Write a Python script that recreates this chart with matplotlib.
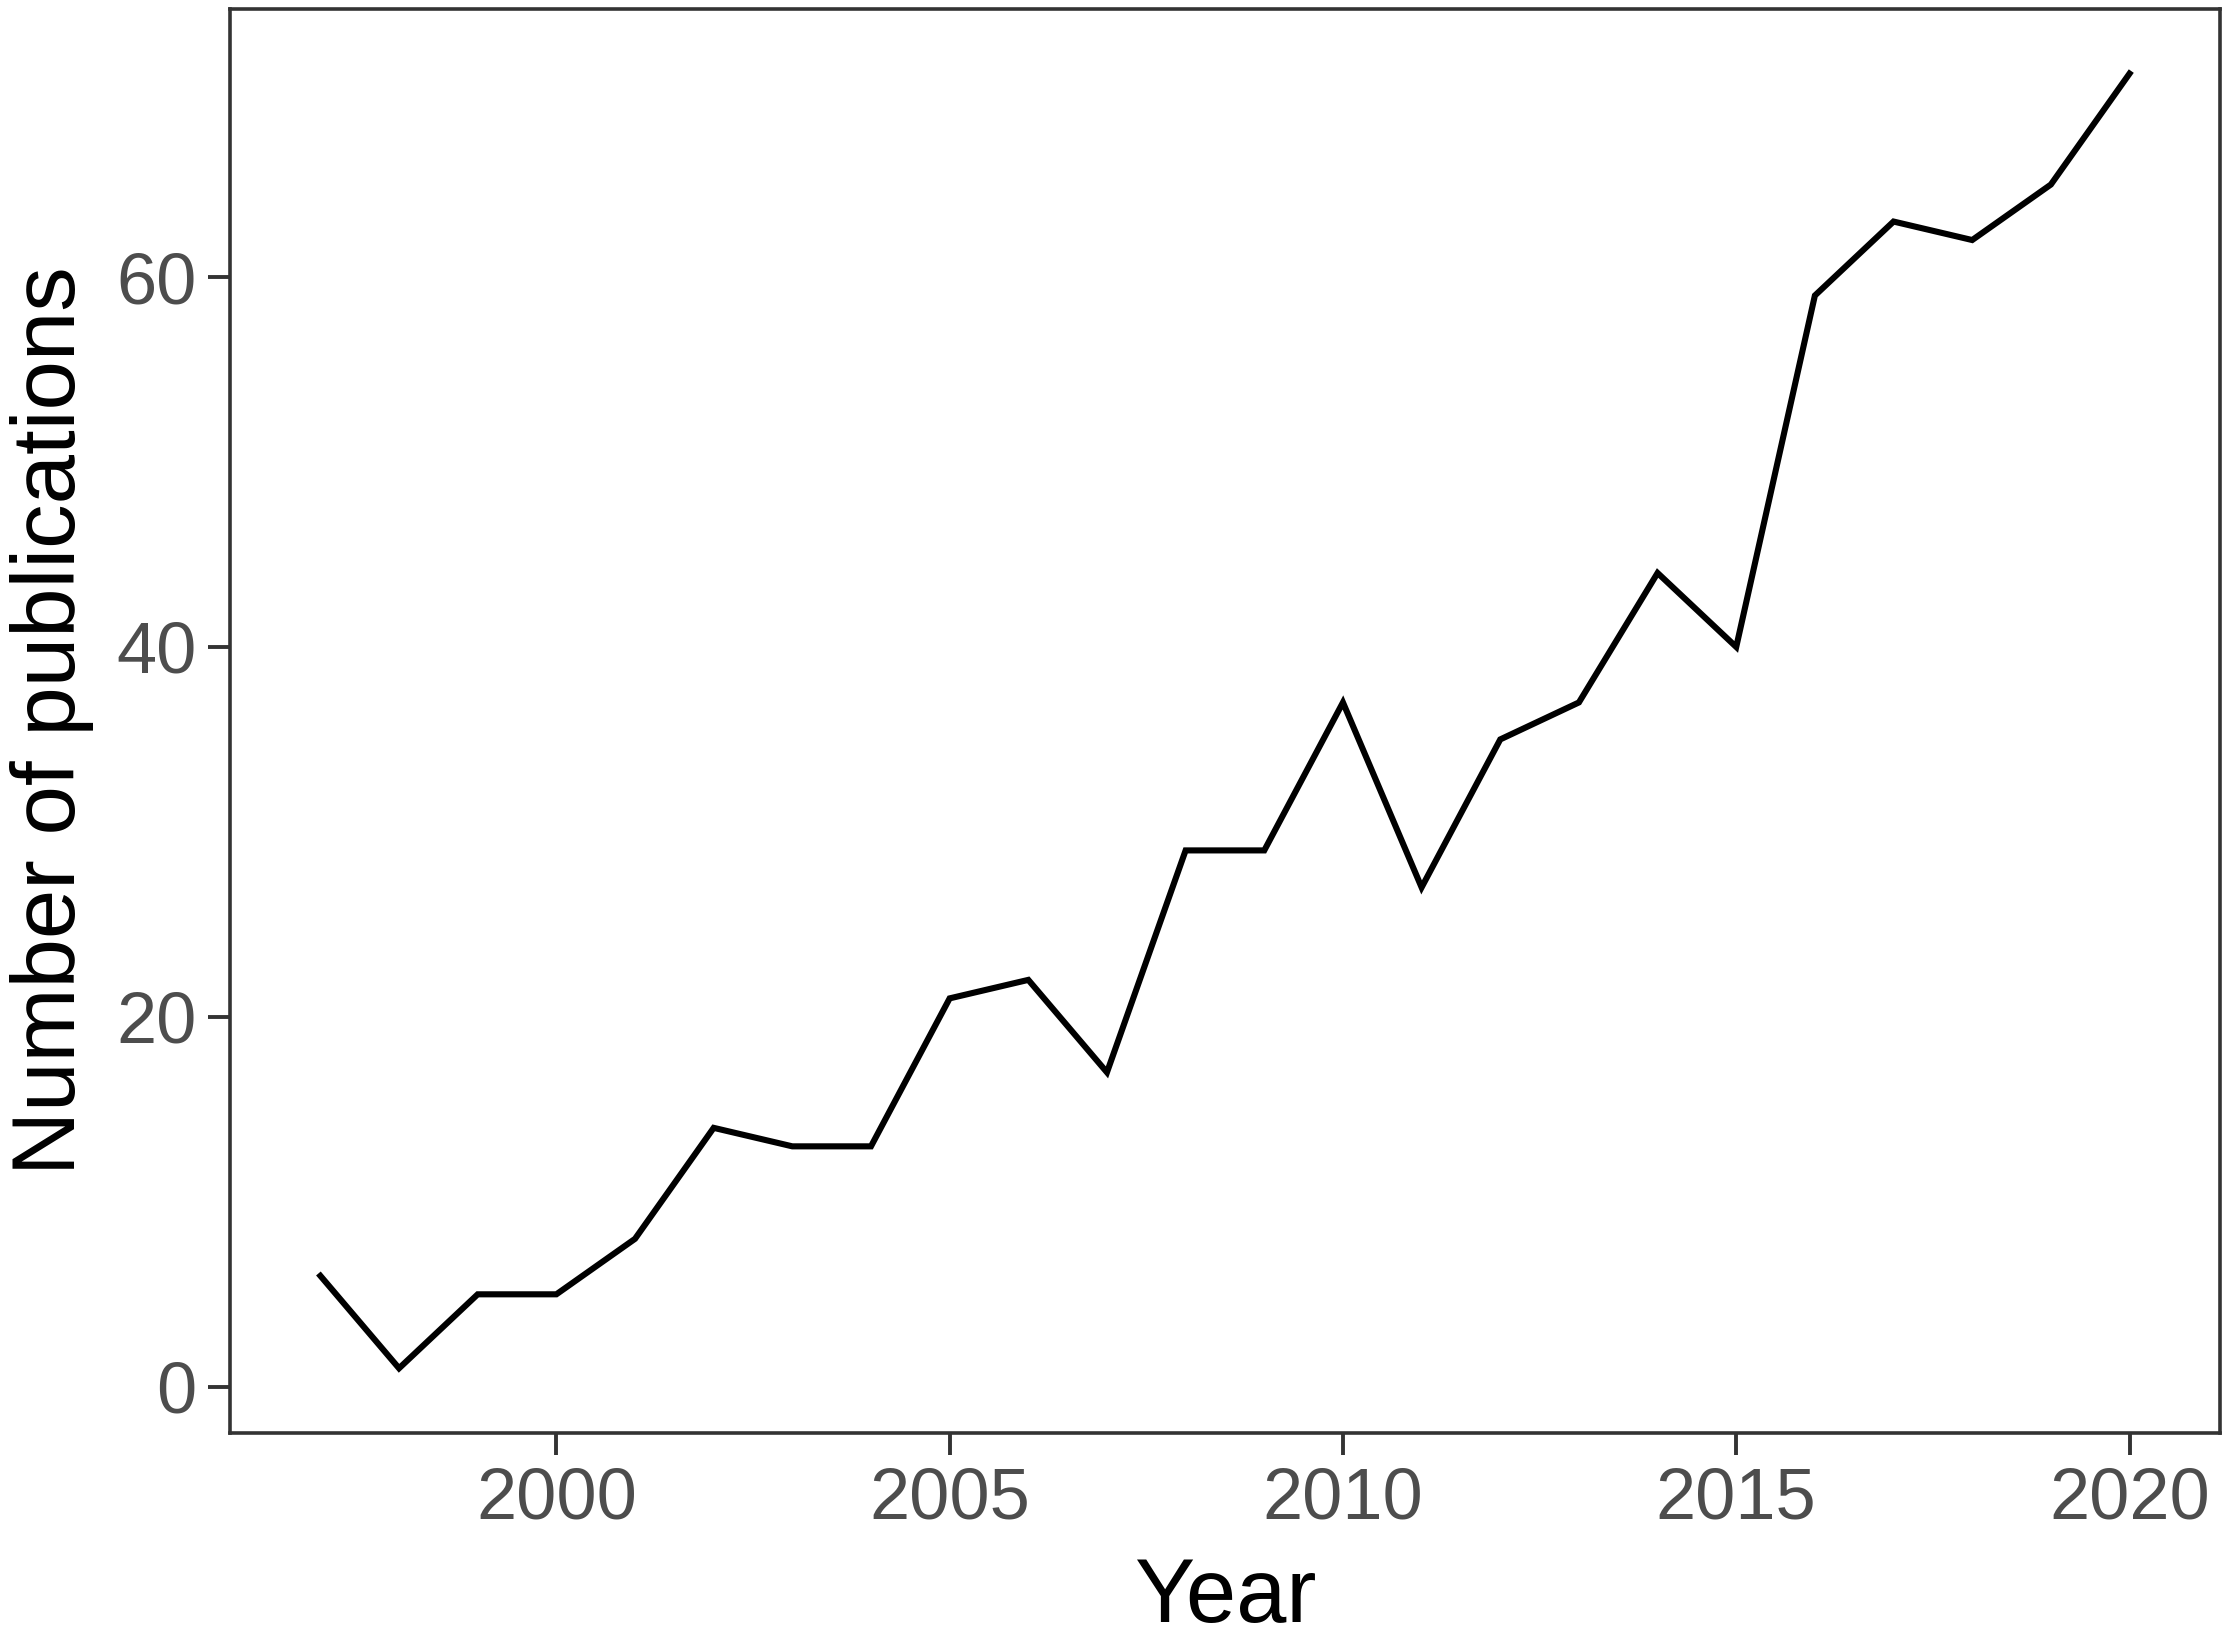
import matplotlib.pyplot as plt

plt.rcParams['font.family'] = ['Liberation Sans', 'DejaVu Sans']

years = list(range(1997, 2021))
pubs = [6, 1, 5, 5, 8, 14, 13, 13, 21, 22, 17, 29, 29, 37, 27, 35, 37, 44, 40, 59, 63, 62, 65, 71]

fig = plt.figure(figsize=(22.28, 16.37), dpi=100)
ax = fig.add_axes([0.1032, 0.1246, 0.8932, 0.8700])

ax.plot(years, pubs, color='black', linewidth=4.4, solid_joinstyle='miter')

# ggplot-style 5% expansion around the data range
span_x = max(years) - min(years)
span_y = max(pubs) - min(pubs)
ax.set_xlim(min(years) - 0.05 * span_x, max(years) + 0.05 * span_x)
ax.set_ylim(min(pubs) - 0.05 * span_y, max(pubs) + 0.05 * span_y)

ax.set_xticks([2000, 2005, 2010, 2015, 2020])
ax.set_yticks([0, 20, 40, 60])

for s in ax.spines.values():
    s.set_color('#333333')
    s.set_linewidth(2.6)

ax.tick_params(axis='both', colors='#333333', width=2.8, length=16,
               labelsize=52, labelcolor='#4D4D4D', pad=8)

ax.set_xlabel('Year', fontsize=65, labelpad=16)
ax.set_ylabel('Number of publications', fontsize=64, labelpad=16)

fig.savefig('out.png', dpi=100)
